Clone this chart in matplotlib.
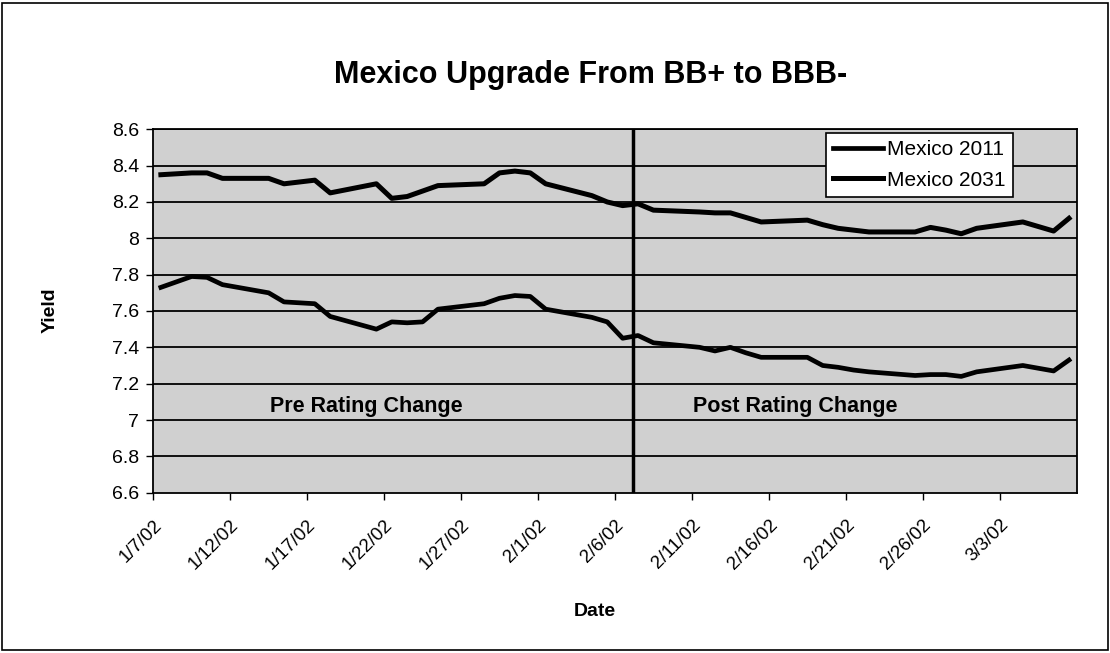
from matplotlib import pyplot as plt
from matplotlib.patches import Rectangle
import pandas as pd
import numpy as np

plt.rcParams['font.family'] = ['Liberation Sans', 'DejaVu Sans']

# trading days and yields
dates = pd.bdate_range('2002-01-07', '2002-03-07')
mexico_2031 = [8.35, 8.355, 8.36, 8.36, 8.33,
               8.33, 8.30, 8.31, 8.32, 8.25,
               8.30, 8.22, 8.23, 8.26, 8.29,
               8.30, 8.36, 8.37, 8.36, 8.30,
               8.235, 8.20, 8.18, 8.19, 8.155,
               8.145, 8.14, 8.14, 8.115, 8.09,
               8.10, 8.075, 8.055, 8.045, 8.035,
               8.035, 8.06, 8.045, 8.025, 8.055,
               8.09, 8.065, 8.04, 8.11]
mexico_2011 = [7.73, 7.76, 7.79, 7.785, 7.745,
               7.70, 7.65, 7.645, 7.64, 7.57,
               7.50, 7.54, 7.535, 7.54, 7.61,
               7.64, 7.67, 7.685, 7.68, 7.61,
               7.565, 7.54, 7.45, 7.465, 7.425,
               7.40, 7.38, 7.40, 7.37, 7.345,
               7.345, 7.30, 7.29, 7.275, 7.265,
               7.245, 7.25, 7.25, 7.24, 7.265,
               7.30, 7.285, 7.27, 7.33]
rating_change_day = 31.2
start = dates[0]
x = (dates - start).days + 0.5

fig = plt.figure(figsize=(11.1, 6.53), dpi=100)
ax = fig.add_axes([0.138, 0.2455, 0.832, 0.5565])
ax.set_facecolor('#d0d0d0')

for y in np.arange(6.8, 8.61, 0.2):
    ax.axhline(y, color='black', lw=1.3, zorder=1)

ax.plot(x, mexico_2011, color='black', lw=3.4, label='Mexico 2011', zorder=3)
ax.plot(x, mexico_2031, color='black', lw=3.6, label='Mexico 2031', zorder=3)
ax.axvline(rating_change_day, color='black', lw=2.5, zorder=2)

ax.set_xlim(0, 60)
ax.set_ylim(6.6, 8.6)
ax.set_yticks(np.round(np.arange(6.6, 8.61, 0.2), 1))
ax.set_yticklabels(['6.6', '6.8', '7', '7.2', '7.4', '7.6', '7.8', '8', '8.2', '8.4', '8.6'], fontsize=14)

tick_days = np.arange(0, 56, 5)
tick_labels = [(start + pd.Timedelta(days=int(d))).strftime('%-m/%-d/%y') for d in tick_days]
ax.set_xticks(tick_days)
ax.set_xticklabels(tick_labels, rotation=45, ha='right', va='top', rotation_mode='anchor', fontsize=13.5)
ax.tick_params(axis='x', direction='out', length=5, width=1, color='black', pad=12)
ax.tick_params(axis='y', direction='out', length=5, width=1, color='black', pad=5)

for s in ax.spines.values():
    s.set_linewidth(1.3)

ax.text(7.6, 7.074, 'Pre Rating Change', fontsize=15.5, fontweight='bold', va='center', zorder=4)
ax.text(35.1, 7.074, 'Post Rating Change', fontsize=15.5, fontweight='bold', va='center', zorder=4)

leg = ax.legend(loc='upper right', bbox_to_anchor=(0.931, 0.99), frameon=True, fancybox=False,
                fontsize=15, handlelength=2.4, handletextpad=0.2, borderpad=0.35, labelspacing=0.55,
                borderaxespad=0)
leg.get_frame().set_edgecolor('black')
leg.get_frame().set_linewidth(1.2)
leg.get_frame().set_facecolor('white')
leg.get_frame().set_alpha(1)

fig.text(0.532, 0.885, 'Mexico Upgrade From BB+ to BBB-', ha='center', va='center', fontsize=22, fontweight='bold')
fig.text(0.045, 0.525, 'Yield', ha='center', va='center', rotation=90, fontsize=14, fontweight='bold')
fig.text(0.536, 0.063, 'Date', ha='center', va='center', fontsize=14, fontweight='bold')

fig.patches.append(Rectangle((0.002, 0.004), 0.996, 0.992, transform=fig.transFigure,
                             fill=False, edgecolor='black', lw=1.2))

plt.savefig('out.png', dpi=100)
